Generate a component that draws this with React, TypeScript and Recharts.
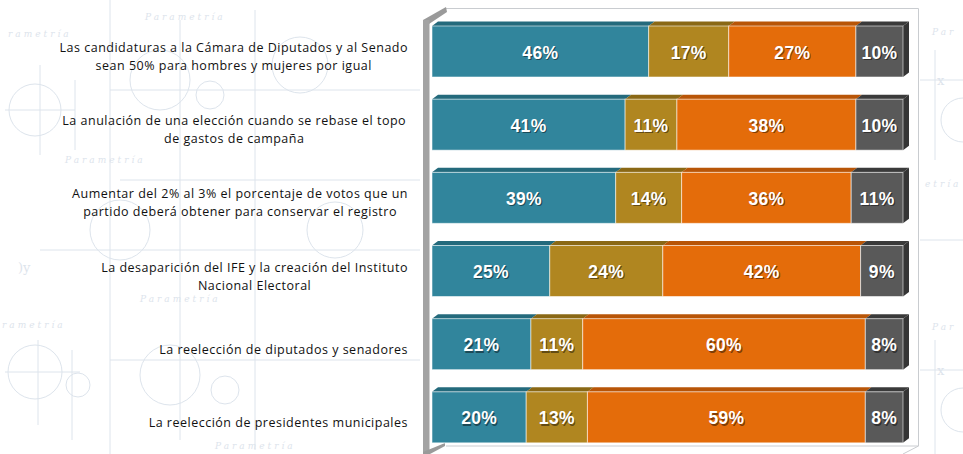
import React from "react";
import { BarChart, Bar, XAxis, YAxis, LabelList } from "recharts";

const categories = [
  "Las candidaturas a la Cámara de Diputados y al Senado\nsean 50% para hombres y mujeres por igual",
  "La anulación  de una elección cuando se rebase el topo\nde gastos de campaña",
  "Aumentar del 2% al 3% el porcentaje de votos que un\npartido deberá obtener para conservar el registro",
  "La desaparición del IFE y la creación del Instituto\nNacional Electoral",
  "La reelección de diputados y senadores",
  "La reelección de presidentes municipales",
];
const seriesNames = ["De acuerdo", "Ni de acuerdo ni en desacuerdo", "En desacuerdo", "NS/NC"];
const acuerdo = [46, 41, 39, 25, 21, 20];
const neutral = [17, 11, 14, 24, 11, 13];
const desacuerdo = [27, 38, 36, 42, 60, 59];
const nsnc = [10, 10, 11, 9, 8, 8];

const data = categories.map((label, i) => ({
  label,
  a: acuerdo[i],
  b: neutral[i],
  c: desacuerdo[i],
  d: nsnc[i],
}));

const COLORS = {
  a: { front: "#31859C", top: "#246A7C" },
  b: { front: "#B08620", top: "#8A6815" },
  c: { front: "#E46C0A", top: "#B85507" },
  d: { front: "#595959", top: "#3A3A3A", side: "#353535" },
};

const DX = 6;
const DY = 4.5;

const LABEL_SIZE = 12.5;
const LABEL_SPACING = 0.5;
const LABEL_FONT = `${LABEL_SIZE}px "Open Sans"`;
let ctx: CanvasRenderingContext2D | null = null;
function measure(t: string): number {
  if (!ctx) {
    const c = document.createElement("canvas");
    ctx = c.getContext("2d");
  }
  if (!ctx) return t.length * 6.7;
  ctx.font = LABEL_FONT;
  return ctx.measureText(t).width + t.length * LABEL_SPACING;
}

const makeShape = (key: "a" | "b" | "c" | "d", last: boolean) => (props: any) => {
  const { x, y, width, height } = props;
  if (width == null || width <= 0) return null;
  const col: any = (COLORS as any)[key];
  const top = `${x},${y} ${x + DX},${y - DY} ${x + width + DX},${y - DY} ${x + width},${y}`;
  return (
    <g>
      <polygon points={top} fill={col.top} />
      {last && (
        <polygon
          points={`${x + width},${y} ${x + width + DX},${y - DY} ${x + width + DX},${y + height - DY} ${x + width},${y + height}`}
          fill={col.side}
        />
      )}
      <rect x={x} y={y} width={width} height={height} fill={col.front} stroke="#ffffff" strokeOpacity={0.55} strokeWidth={1} />
    </g>
  );
};

const ValueLabel = (props: any) => {
  const { x, y, width, height, value } = props;
  const cx = x + width / 2;
  const cy = y + height / 2 + 1;
  const txt = `${value}%`;
  const common = {
    textAnchor: "middle" as const,
    dominantBaseline: "central" as const,
    fontFamily: '"Liberation Sans", Arial, sans-serif',
    fontWeight: 700,
    fontSize: 17.5,
    letterSpacing: 0.3,
  };
  return (
    <g>
      <text x={cx + 1.2} y={cy + 1.4} fill="#000" fillOpacity={0.45} {...common}>{txt}</text>
      <text x={cx} y={cy} fill="#ffffff" {...common}>{txt}</text>
    </g>
  );
};

const CategoryTick = (props: any) => {
  const { y, payload } = props;
  const lines: string[] = String(payload.value).split("\n");
  const right = 408;
  const widths = lines.map(measure);
  const maxW = Math.max(...widths);
  const center = right - maxW / 2;
  const lh = 18;
  const blockCenter = y + 5;
  const start = blockCenter - ((lines.length - 1) * lh) / 2;
  return (
    <g>
      {lines.map((l, i) => (
        <text
          key={i}
          x={center}
          y={start + i * lh}
          textAnchor="middle"
          dominantBaseline="central"
          fontFamily='"Open Sans", sans-serif'
          fontSize={LABEL_SIZE}
          letterSpacing={LABEL_SPACING}
          fill="#111111"
        >
          {l}
        </text>
      ))}
    </g>
  );
};

const WM = "#dde4ec";
const Watermark = () => (
  <svg width={963} height={454} style={{ position: "absolute", left: 0, top: 0 }}>
    <g fill={WM} fontFamily='"DejaVu Serif", serif' fontStyle="italic" fontSize={9} letterSpacing={3}>
      <text x={145} y={20}>Parametría</text>
      <text x={8} y={37}>rametría</text>
      <text x={65} y={163}>Parametría</text>
      <text x={140} y={302}>Parametría</text>
      <text x={2} y={328}>rametría</text>
      <text x={215} y={449}>Parametría</text>
      <text x={932} y={35}>Par</text>
      <text x={925} y={187}>etría</text>
      <text x={932} y={330}>Par</text>
    </g>
    <g fill="none" stroke={WM} strokeWidth={1}>
      <circle cx={35} cy={110} r={26} />
      <line x1={5} y1={110} x2={75} y2={110} />
      <line x1={40} y1={65} x2={40} y2={155} />
      <line x1={75} y1={80} x2={75} y2={150} />
      <circle cx={35} cy={372} r={27} />
      <line x1={5} y1={372} x2={80} y2={372} />
      <line x1={38} y1={340} x2={38} y2={425} />
      <line x1={72} y1={350} x2={72} y2={440} />
      <circle cx={78} cy={385} r={12} />
      <circle cx={160} cy={80} r={30} />
      <circle cx={210} cy={95} r={14} />
      <circle cx={170} cy={375} r={30} />
      <circle cx={225} cy={390} r={14} />
      <circle cx={120} cy={230} r={30} />
      <circle cx={300} cy={65} r={28} />
      <circle cx={335} cy={230} r={28} />
      <line x1={120} y1={180} x2={420} y2={180} />
      <line x1={40} y1={250} x2={420} y2={250} />
      <line x1={110} y1={90} x2={420} y2={90} />
      <line x1={110} y1={360} x2={420} y2={360} />
      <line x1={180} y1={20} x2={180} y2={440} />
      <line x1={255} y1={10} x2={255} y2={450} />
      <line x1={110} y1={0} x2={110} y2={454} />
      <line x1={920} y1={80} x2={963} y2={80} />
      <line x1={935} y1={50} x2={935} y2={160} />
      <circle cx={963} cy={120} r={22} />
      <line x1={920} y1={370} x2={963} y2={370} />
      <line x1={935} y1={340} x2={935} y2={454} />
      <circle cx={963} cy={410} r={22} />
      <line x1={920} y1={240} x2={963} y2={240} />
    </g>
    <g fill={WM} fontFamily='"DejaVu Serif", serif' fontSize={13}>
      <text x={18} y={272}>)y</text>
      <text x={937} y={85}>x</text>
      <text x={937} y={375}>x</text>
    </g>
  </svg>
);

const Frame = () => (
  <svg width={963} height={454} style={{ position: "absolute", left: 0, top: 0, pointerEvents: "none" }}>
    <g fill="none" stroke="#c9ccd0" strokeWidth={1}>
      <line x1={446} y1={8.5} x2={918.5} y2={8.5} />
      <line x1={918.5} y1={8.5} x2={918.5} y2={446} />
      <line x1={918.5} y1={446} x2={903} y2={454} />
      <line x1={446} y1={446} x2={918.5} y2={446} />
    </g>
  </svg>
);

const Wall = () => (
  <svg width={963} height={454} style={{ position: "absolute", left: 0, top: 0, pointerEvents: "none" }}>
    <polygon points="423,20 446,7 447,12 429,24" fill="#9a9a9a" />
    <rect x={423} y={20} width={6.5} height={432} fill="#a3a3a3" />
    <polygon points="423,452 445,443 445,446 430,454 423,454" fill="#9a9a9a" />
  </svg>
);

export default function App() {
  return (
    <div style={{ position: "absolute", left: 0, top: 0, width: 963, height: 454, background: "#ffffff" }}>
      <Watermark />
      <Frame />
      <Wall />
      <div style={{ position: "absolute", left: 0, top: 0 }}>
        <BarChart
          width={963}
          height={454}
          data={data}
          layout="vertical"
          margin={{ top: 15, right: 60, bottom: 0, left: 0 }}
          barSize={51}
        >
          <XAxis type="number" domain={[0, 100]} hide />
          <YAxis
            type="category"
            dataKey="label"
            width={432}
            axisLine={false}
            tickLine={false}
            tickSize={0}
            tickMargin={0}
            interval={0}
            tick={<CategoryTick />}
          />
          <Bar dataKey="a" name={seriesNames[0]} stackId="s" isAnimationActive={false} shape={makeShape("a", false)}>
            <LabelList dataKey="a" content={<ValueLabel />} />
          </Bar>
          <Bar dataKey="b" name={seriesNames[1]} stackId="s" isAnimationActive={false} shape={makeShape("b", false)}>
            <LabelList dataKey="b" content={<ValueLabel />} />
          </Bar>
          <Bar dataKey="c" name={seriesNames[2]} stackId="s" isAnimationActive={false} shape={makeShape("c", false)}>
            <LabelList dataKey="c" content={<ValueLabel />} />
          </Bar>
          <Bar dataKey="d" name={seriesNames[3]} stackId="s" isAnimationActive={false} shape={makeShape("d", true)}>
            <LabelList dataKey="d" content={<ValueLabel />} />
          </Bar>
        </BarChart>
      </div>
    </div>
  );
}
